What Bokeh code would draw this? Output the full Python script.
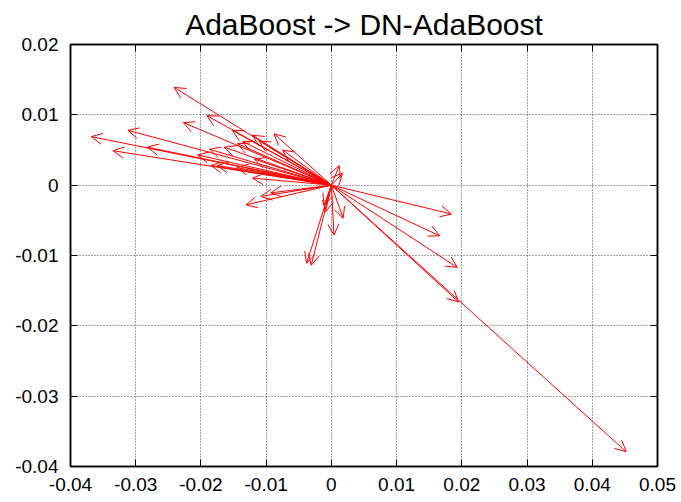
from bokeh.plotting import figure
from bokeh.models import (Arrow, OpenHead, ColumnDataSource, FixedTicker, LinearAxis, Range1d,
                          CustomLabelingPolicy)
from bokeh.embed import file_html
from bokeh.resources import INLINE

# arrow end points (all start at origin)
x_start = [0.0] * 38
y_start = [0.0] * 38
x_end = [-0.0241, -0.0368, -0.0335, -0.0312, -0.0282, -0.0227, -0.0191, -0.0205,
         -0.0187, -0.0185, -0.0152, -0.0164, -0.0136, -0.0121, -0.0088, -0.0144,
         -0.0111, -0.0075, -0.0121, -0.0108, -0.0131, -0.0118, -0.0175, 0.0012,
         0.0017, -0.0038, -0.0031, 0.0004, 0.0018, 0.0184, 0.0166, 0.0193,
         0.0195, 0.0452, -0.0011, -0.0009, -0.0093, -0.0145]
y_end = [0.0139, 0.0069, 0.0049, 0.0078, 0.0054, 0.0089, 0.0099, 0.0043,
         0.0051, 0.0028, 0.0078, 0.0054, 0.0062, 0.0071, 0.0073, 0.0059,
         0.0063, 0.0050, 0.0010, -0.0016, -0.0028, 0.0037, 0.0028, 0.0028,
         0.0017, -0.0111, -0.0114, -0.0071, -0.0047, -0.0041, -0.0072, -0.0117,
         -0.0166, -0.0379, -0.0028, -0.0038, -0.0011, 0.0025]

x_ticks = [-0.04, -0.03, -0.02, -0.01, 0, 0.01, 0.02, 0.03, 0.04, 0.05]
x_labels = ["-0.04", "-0.03", "-0.02", "-0.01", "0", "0.01", "0.02", "0.03", "0.04", "0.05"]
y_ticks = [-0.04, -0.03, -0.02, -0.01, 0, 0.01, 0.02]
y_labels = ["-0.04", "-0.03", "-0.02", "-0.01", "0", "0.01", "0.02"]

FONT = "Liberation Sans"

p = figure(width=681, height=502, output_backend="svg", toolbar_location=None,
           x_range=Range1d(-0.04, 0.05), y_range=Range1d(-0.04, 0.02),
           min_border_left=70, min_border_right=24, min_border_top=44, min_border_bottom=36,
           title="AdaBoost -> DN-AdaBoost")
p.title.text_font = FONT
p.title.text_font_size = "30px"
p.title.text_font_style = "normal"
p.title.align = "center"
p.title.text_color = "black"
p.title.offset = 0
p.title.standoff = 0

src = ColumnDataSource(dict(x0=x_start, y0=y_start, x1=x_end, y1=y_end))
p.add_layout(Arrow(end=OpenHead(size=11, line_color="red", line_width=1),
                   x_start="x0", y_start="y0", x_end="x1", y_end="y1",
                   source=src, line_color="red", line_width=1))

for ax, ticks, labels, so in ((p.xaxis[0], x_ticks, x_labels, 11), (p.yaxis[0], y_ticks, y_labels, 12)):
    ax.ticker = FixedTicker(ticks=ticks)
    ax.major_label_overrides = {t: l for t, l in zip(ticks, labels)}
    ax.major_tick_in = 7
    ax.major_tick_out = 0
    ax.minor_tick_in = 0
    ax.minor_tick_out = 0
    ax.axis_line_color = "black"
    ax.axis_line_width = 1.5
    ax.major_tick_line_color = "black"
    ax.major_label_text_font = FONT
    ax.major_label_text_font_size = "19px"
    ax.major_label_text_color = "black"
    ax.major_label_standoff = so

hide = "for (let i = 0; i < indices.size; i++) { indices.unset(i) } return indices"

# mirrored tick axes (no labels)
def mirror(ticks):
    return LinearAxis(ticker=FixedTicker(ticks=ticks), major_tick_in=7, major_tick_out=0,
                      minor_tick_in=0, minor_tick_out=0,
                      major_label_policy=CustomLabelingPolicy(code=hide),
                      major_label_text_font_size="1px",
                      axis_line_color="black", axis_line_width=1.5, major_label_standoff=0)

p.add_layout(mirror(y_ticks), "right")
p.add_layout(mirror(x_ticks), "above")

p.xgrid[0].ticker = FixedTicker(ticks=x_ticks)
p.ygrid[0].ticker = FixedTicker(ticks=y_ticks)
for g in (p.xgrid[0], p.ygrid[0]):
    g.grid_line_color = "#444444"
    g.grid_line_dash = "1 2"
    g.grid_line_width = 1

p.outline_line_color = "black"
p.outline_line_width = 1.5
p.background_fill_color = "white"
p.border_fill_color = "white"

open("out.html", "w").write(file_html(p, INLINE))
